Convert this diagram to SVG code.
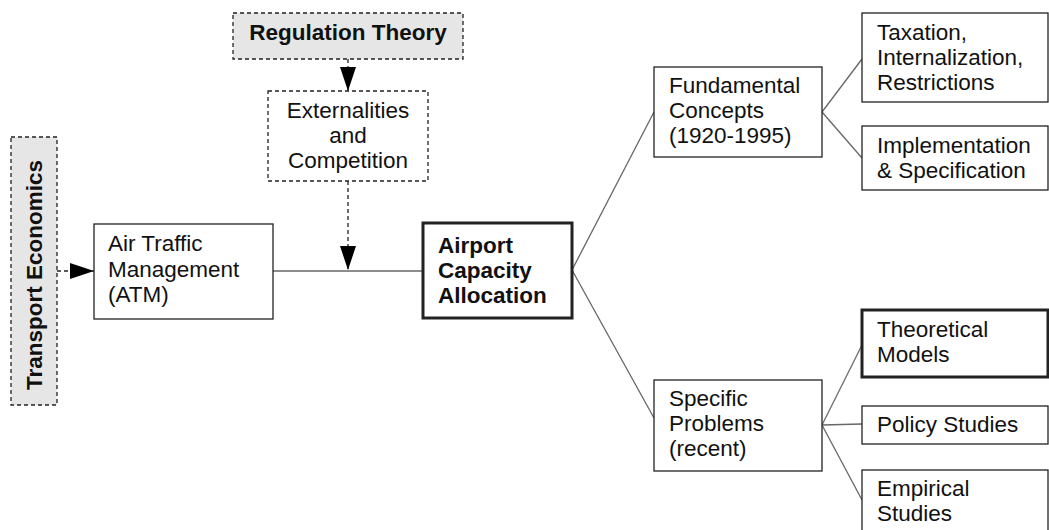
<svg xmlns="http://www.w3.org/2000/svg" width="1049" height="530" viewBox="0 0 1049 530">
<style>
.box{fill:#fff;stroke:#222;stroke-width:1.3}
.dash{stroke-dasharray:4 3}
.gray{fill:#e6e6e6}
.thick{stroke-width:3}
.t{font-family:"Liberation Sans",Arial,sans-serif;font-size:22.5px;fill:#111}
.b{font-weight:bold}
.c{stroke:#666;stroke-width:1.3;fill:none}
.a{stroke:#222;stroke-width:1.3;fill:none;stroke-dasharray:4 3}
</style>
<defs>
<marker id="ah" markerUnits="userSpaceOnUse" markerWidth="24" markerHeight="16" refX="24" refY="8" orient="auto" viewBox="0 0 24 16">
<path d="M0,0 L24,8 L0,16 z" fill="#000"/>
</marker>
</defs>
<g id="connectors">
<line class="c" x1="273" y1="271" x2="423" y2="271"/>
<line class="a" x1="348" y1="59" x2="348" y2="91" marker-end="url(#ah)"/>
<line class="a" x1="348" y1="181" x2="348" y2="270" marker-end="url(#ah)"/>
<line class="a" x1="57" y1="271" x2="94" y2="271" marker-end="url(#ah)"/>
<line class="c" x1="572" y1="270" x2="654" y2="112"/>
<line class="c" x1="572" y1="270" x2="654" y2="418"/>
<line class="c" x1="822" y1="112" x2="862" y2="59"/>
<line class="c" x1="822" y1="112" x2="862" y2="158"/>
<line class="c" x1="822" y1="425" x2="862" y2="345"/>
<line class="c" x1="822" y1="425" x2="862" y2="424"/>
<line class="c" x1="822" y1="425" x2="862" y2="500"/>
</g>
<g id="regulation-theory">
<rect class="box dash gray" x="233" y="13" width="230" height="46"/>
<text class="t b" x="348" y="40" text-anchor="middle">Regulation Theory</text>
</g>
<g id="externalities">
<rect class="box dash" x="268" y="91" width="160" height="90"/>
<text class="t" x="348" y="118" text-anchor="middle">Externalities</text>
<text class="t" x="348" y="143" text-anchor="middle">and</text>
<text class="t" x="348" y="168" text-anchor="middle">Competition</text>
</g>
<g id="transport-economics">
<rect class="box dash gray" x="11" y="137" width="46" height="268"/>
<text class="t b" transform="translate(42,275) rotate(-90)" text-anchor="middle">Transport Economics</text>
</g>
<g id="atm">
<rect class="box" x="94" y="224" width="179" height="95"/>
<text class="t" x="108" y="251">Air Traffic</text>
<text class="t" x="108" y="277">Management</text>
<text class="t" x="108" y="302">(ATM)</text>
</g>
<g id="airport-capacity">
<rect class="box thick" x="423" y="223" width="149" height="95"/>
<text class="t b" x="438" y="253">Airport</text>
<text class="t b" x="438" y="278">Capacity</text>
<text class="t b" x="438" y="303">Allocation</text>
</g>
<g id="fundamental">
<rect class="box" x="654" y="67" width="168" height="90"/>
<text class="t" x="669" y="93">Fundamental</text>
<text class="t" x="669" y="118">Concepts</text>
<text class="t" x="669" y="143">(1920-1995)</text>
</g>
<g id="taxation">
<rect class="box" x="862" y="13" width="186" height="89"/>
<text class="t" x="877" y="40">Taxation,</text>
<text class="t" x="877" y="65">Internalization,</text>
<text class="t" x="877" y="90">Restrictions</text>
</g>
<g id="implementation">
<rect class="box" x="862" y="126" width="186" height="64"/>
<text class="t" x="877" y="153">Implementation</text>
<text class="t" x="877" y="178">&amp; Specification</text>
</g>
<g id="specific">
<rect class="box" x="654" y="380" width="168" height="91"/>
<text class="t" x="669" y="406">Specific</text>
<text class="t" x="669" y="431">Problems</text>
<text class="t" x="669" y="456">(recent)</text>
</g>
<g id="theoretical">
<rect class="box thick" x="862" y="310" width="186" height="67"/>
<text class="t" x="877" y="337">Theoretical</text>
<text class="t" x="877" y="362">Models</text>
</g>
<g id="policy">
<rect class="box" x="862" y="406" width="186" height="38"/>
<text class="t" x="877" y="432">Policy Studies</text>
</g>
<g id="empirical">
<rect class="box" x="862" y="470" width="186" height="80"/>
<text class="t" x="877" y="496">Empirical</text>
<text class="t" x="877" y="521">Studies</text>
</g>
</svg>
